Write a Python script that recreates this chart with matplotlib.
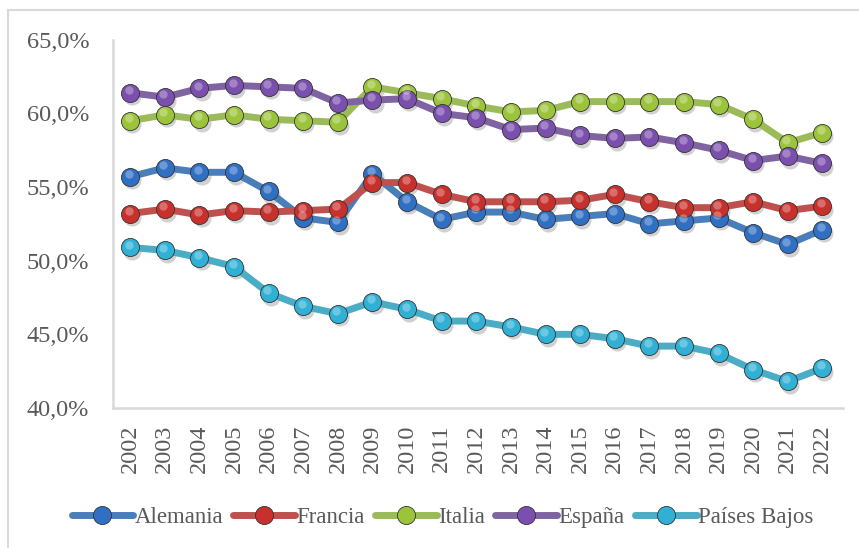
import matplotlib
matplotlib.use("Agg")
import matplotlib.pyplot as plt
import matplotlib.transforms as mtransforms
from matplotlib.patches import Rectangle
from matplotlib.ticker import FuncFormatter
import numpy as np

years = list(range(2002, 2023))

alemania = [55.7, 56.3, 56.0, 56.0, 54.7, 52.9, 52.6, 55.9, 54.0, 52.8, 53.3,
            53.3, 52.8, 53.0, 53.2, 52.5, 52.7, 52.9, 51.9, 51.1, 52.1]
francia = [53.2, 53.5, 53.1, 53.4, 53.3, 53.4, 53.5, 55.3, 55.3, 54.5, 54.0,
           54.0, 54.0, 54.1, 54.5, 54.0, 53.6, 53.6, 54.0, 53.4, 53.7]
italia = [59.5, 59.9, 59.6, 59.9, 59.6, 59.5, 59.4, 61.8, 61.4, 61.0, 60.5,
          60.1, 60.2, 60.8, 60.8, 60.8, 60.8, 60.6, 59.6, 58.0, 58.7]
espana = [61.4, 61.1, 61.7, 61.9, 61.8, 61.7, 60.7, 60.9, 61.0, 60.0, 59.7,
          58.9, 59.0, 58.5, 58.3, 58.4, 58.0, 57.5, 56.8, 57.1, 56.6]
paises_bajos = [50.9, 50.7, 50.2, 49.6, 47.8, 46.9, 46.4, 47.2, 46.7, 45.9, 45.9,
                45.5, 45.0, 45.0, 44.7, 44.2, 44.2, 43.7, 42.6, 41.8, 42.7]

series = [
    ("Alemania", alemania, "#4a7ebb", "#2f6fc4"),
    ("Francia", francia, "#c0504d", "#c8302c"),
    ("Italia", italia, "#9bbb59", "#9cc43a"),
    ("España", espana, "#8064a2", "#7a4fae"),
    ("Países Bajos", paises_bajos, "#4bacc6", "#2fb0d4"),
]

FONT = "Liberation Serif"
GRIS = "#595959"

fig = plt.figure(figsize=(8.59, 5.48), dpi=100)
ax = fig.add_axes([0.1315, 0.2555, 0.85, 0.672])

x = np.arange(len(years))
handles = []
for nombre, vals, col_linea, col_bola in series:
    # sombra de la bola
    sombra = mtransforms.offset_copy(ax.transData, fig=fig, x=1.5, y=-2.5, units="points")
    ax.plot(x, vals, "o", ms=13, color="#000000", alpha=0.18, mec="none",
            transform=sombra, zorder=2)
    ln, = ax.plot(x, vals, "-", color=col_linea, lw=5, solid_capstyle="round",
                  marker="o", ms=13, mfc=col_bola, mec="#333333", mew=0.6,
                  zorder=3, label=nombre)
    # brillo
    brillo = mtransforms.offset_copy(ax.transData, fig=fig, x=-1.0, y=2.0, units="points")
    ax.plot(x, vals, "o", ms=6, color="white", alpha=0.3, mec="none",
            transform=brillo, zorder=4)
    handles.append(ln)

ax.set_xlim(-0.5, len(years) - 0.4)
ax.set_ylim(40, 65)
ax.set_yticks(np.arange(40, 65.1, 5))
ax.yaxis.set_major_formatter(FuncFormatter(lambda v, p: f"{v:.1f}%".replace(".", ",")))
ax.set_xticks(x)
ax.set_xticklabels([str(a) for a in years], rotation=90)

for lbl in ax.get_xticklabels() + ax.get_yticklabels():
    lbl.set_fontfamily(FONT)
    lbl.set_fontsize(17.5)
    lbl.set_color(GRIS)

ax.tick_params(axis="y", length=0, pad=17)
ax.tick_params(axis="x", length=0, pad=12)
for lado in ("top", "right"):
    ax.spines[lado].set_visible(False)
for lado in ("left", "bottom"):
    ax.spines[lado].set_color("#d9d9d9")
    ax.spines[lado].set_linewidth(1.8)

leg = fig.legend(handles=handles, loc="center", bbox_to_anchor=(0.515, 0.055),
                 ncol=5, frameon=False, handlelength=2.7, handletextpad=0.05,
                 columnspacing=0.45, prop={"family": FONT, "size": 16.5})
for t in leg.get_texts():
    t.set_color(GRIS)

# marco exterior del grafico
fig.patches.append(Rectangle((8 / 859, -0.05), 1.2, 1 - 10 / 548 + 0.05,
                             transform=fig.transFigure, fill=False,
                             edgecolor="#d9d9d9", lw=1.5))

fig.savefig("out.png", dpi=100)
